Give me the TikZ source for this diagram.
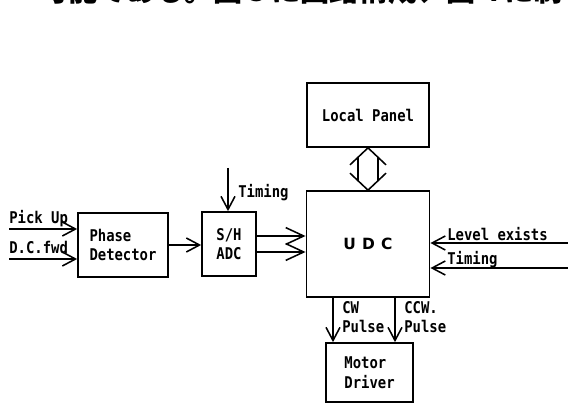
\documentclass[tikz,border=0pt]{standalone}
\usepackage{fontspec}
\usepackage{xcolor}
\usetikzlibrary{arrows.meta,positioning,calc}

\newfontfamily\lblfont{DejaVu Sans Mono}[FakeStretch=0.86]
\newfontfamily\udcfont{DejaVu Sans}[LetterSpace=40]
\newfontfamily\jpfont{Noto Sans CJK JP}

\begin{document}
\begin{tikzpicture}[
    block/.style={rectangle, draw, line width=1.2pt, align=left, inner sep=0pt, font=\lblfont\bfseries\fontsize{11.5pt}{14pt}\selectfont},
    lbl/.style={inner sep=0pt, anchor=base west, align=left, font=\lblfont\bfseries\fontsize{11.5pt}{14pt}\selectfont},
    sig/.style={-{Straight Barb[length=3.3mm, width=3.5mm]}, line width=1.1pt},
    bus/.style={-{Straight Barb[length=4.5mm, width=4.2mm]}, line width=1.1pt},
    link/.style={line width=1.1pt, line join=miter}
]
\clip (0,0) rectangle (14.2,10.125);

% Text line above (cut off by the page)
\node[anchor=base west, inner sep=0pt, font=\jpfont\bfseries\fontsize{20.7pt}{20.7pt}\selectfont] (head) at (0.97,10.08) {可能である。図３に回路構成、図４に制};

% Blocks
\node[block, align=center, minimum width=3.05cm, minimum height=1.6cm] (panel) at (9.2,7.25) {Local Panel};
\node[block, minimum width=3.08cm, minimum height=2.65cm, font=\udcfont\bfseries\fontsize{11pt}{12pt}\selectfont] (udc) at (9.2,4.025) {UDC};
\node[block, minimum width=2.175cm, minimum height=1.475cm] (motor) at (9.24,0.8125) {Motor\\Driver};
\node[block, minimum width=2.25cm, minimum height=1.6cm] (phase) at (3.075,4.0) {Phase\\Detector};
\node[block, minimum width=1.35cm, minimum height=1.6cm] (sh) at (5.725,4.025) {S/H\\ADC};

% Inputs on left
\coordinate (pu) at (0.225,4.4);
\coordinate (dc) at (0.225,3.65);
\draw[sig] (pu) -- (pu -| phase.west);
\draw[sig] (dc) -- (dc -| phase.west);
\node[lbl] (pulbl) at ($(pu)+(0,0.15)$) {Pick Up};
\node[lbl] (dclbl) at ($(dc)+(0,0.15)$) {D.C.fwd};

% Phase detector to S/H
\draw[sig] (phase.east) -- (phase.east -| sh.west);

% Timing into S/H
\coordinate (tm) at (5.7,5.925);
\draw[sig] (tm) -- (tm |- sh.north);
\node[lbl] (tmlbl) at (5.95,5.2) {Timing};

% S/H to UDC
\draw[bus] ($(sh.east)+(0,0.2)$) -- ($(udc.west)+(0,0.2)$);
\draw[bus] ($(sh.east)+(0,-0.2)$) -- ($(udc.west)+(0,-0.2)$);

% Inputs on right
\coordinate (lv) at (14.2,4.05);
\coordinate (tr) at (14.2,3.425);
\draw[sig] (lv) -- (lv -| udc.east);
\draw[sig] (tr) -- (tr -| udc.east);
\node[lbl] (lvlbl) at (11.175,4.12) {Level exists};
\node[lbl] (trlbl) at (11.175,3.525) {Timing};

% Local panel <-> UDC
\draw[link] ($(panel.south)+(-0.45,-0.425)$) -- (panel.south) -- ($(panel.south)+(0.45,-0.425)$);
\draw[link] ($(udc.north)+(-0.45,0.425)$) -- (udc.north) -- ($(udc.north)+(0.45,0.425)$);
\draw[link] ($(panel.south)+(-0.25,-0.236)$) -- ($(udc.north)+(-0.25,0.236)$);
\draw[link] ($(panel.south)+(0.25,-0.236)$) -- ($(udc.north)+(0.25,0.236)$);

% UDC to motor driver
\coordinate (cw) at (8.325,0);
\coordinate (ccw) at (9.875,0);
\draw[sig] (udc.south -| cw) -- (motor.north -| cw);
\draw[sig] (udc.south -| ccw) -- (motor.north -| ccw);
\node[lbl, anchor=north west] (cwlbl) at (8.55,2.6) {CW\\Pulse};
\node[lbl, anchor=north west] (ccwlbl) at (10.1,2.6) {CCW.\\Pulse};
\end{tikzpicture}
\end{document}
